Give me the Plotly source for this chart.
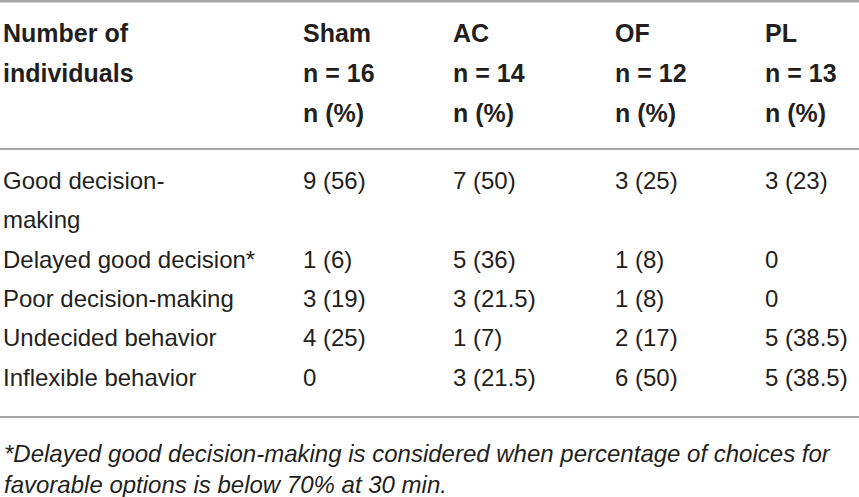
import plotly.graph_objects as go

# table content
groups = ["Sham", "AC", "OF", "PL"]
group_n = ["n = 16", "n = 14", "n = 12", "n = 13"]
row_labels = ["Good decision-", "making", "Delayed good decision*", "Poor decision-making",
              "Undecided behavior", "Inflexible behavior"]
sham = ["9 (56)", "", "1 (6)", "3 (19)", "4 (25)", "0"]
ac = ["7 (50)", "", "5 (36)", "3 (21.5)", "1 (7)", "3 (21.5)"]
of = ["3 (25)", "", "1 (8)", "1 (8)", "2 (17)", "6 (50)"]
pl = ["3 (23)", "", "0", "0", "5 (38.5)", "5 (38.5)"]
footnote = ["*Delayed good decision-making is considered when percentage of choices for",
            "favorable options is below 70% at 30 min."]

# the page is pulled 5px left so the first column can sit at the very edge
W, H = 864, 497
txt = "#231f20"
font_name = "Liberation Sans"
no_line = dict(width=0, color="white")


def keep(v):
    # non-breaking spaces stop the table from wrapping short values
    return v.replace(" ", "\u00a0")


header_vals = [["Number of", "individuals", ""]]
for g, n in zip(groups, group_n):
    header_vals.append([g, keep(n), keep("n (%)")])

body_vals = [row_labels] + [[keep(v) for v in col] for col in (sham, ac, of, pl)]

col_w = [300, 150, 162, 150, 102]

fig = go.Figure()
# header block
fig.add_trace(go.Table(
    domain=dict(x=[0, 1], y=[1 - 148 / H, 1 - 15 / H]),
    columnwidth=col_w,
    header=dict(values=header_vals, height=40, align="left",
                font=dict(family=font_name, size=25, color=txt, weight="bold"),
                fill_color="white", line=no_line),
    cells=dict(values=[[] for _ in col_w], line=no_line),
))
# body block (rows drawn as a plain multi-row header so they all get the same height)
fig.add_trace(go.Table(
    domain=dict(x=[0, 1], y=[1 - 416 / H, 1 - 163 / H]),
    columnwidth=col_w,
    header=dict(values=body_vals, height=39.3, align="left",
                font=dict(family=font_name, size=24, color=txt),
                fill_color="white", line=no_line),
    cells=dict(values=[[] for _ in col_w], line=no_line),
))

fig.add_shape(type="line", xref="paper", yref="paper", x0=0, x1=1, y0=1 - 1.2 / H, y1=1 - 1.2 / H,
              line=dict(color="#a6a6a6", width=2.5))
for yy in [149, 417]:
    fig.add_shape(type="line", xref="paper", yref="paper", x0=0, x1=1, y0=1 - yy / H, y1=1 - yy / H,
                  line=dict(color="#8a8a8a", width=1.5))

fig.add_annotation(text="<br>".join("<i>" + s + "</i>" for s in footnote),
                   xref="paper", yref="paper", x=7 / W, y=1 - 438 / H,
                   xanchor="left", yanchor="top", align="left", showarrow=False,
                   font=dict(family=font_name, size=24, color=txt))

fig.update_layout(width=W, height=H, margin=dict(l=0, r=0, t=0, b=0),
                  paper_bgcolor="white", plot_bgcolor="white")
fig.write_html("out.html", config={"displayModeBar": False},
               post_script="document.body.style.margin='0 0 0 -5px';")
